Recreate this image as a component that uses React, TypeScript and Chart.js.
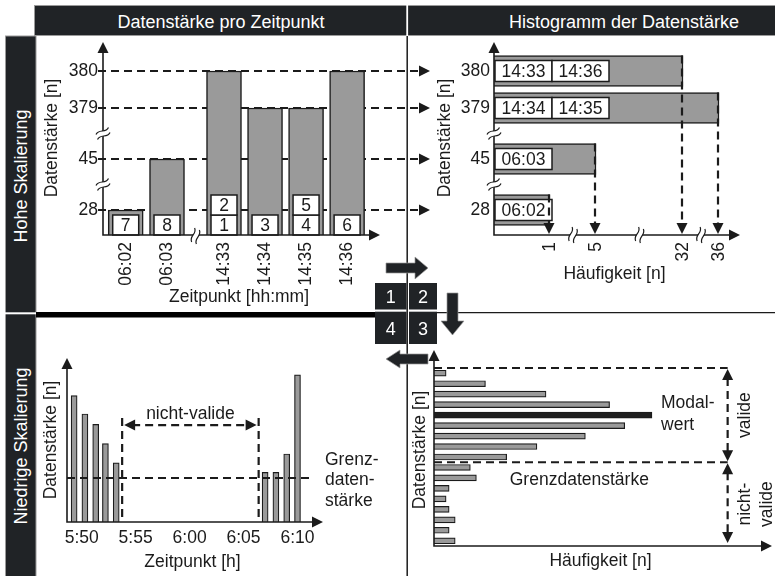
import React, { useEffect, useRef } from 'react';
import { Chart, registerables, LinearScale } from 'chart.js';

Chart.register(...registerables);

// ---------- broken (piecewise) linear scale ----------
class BrokenScale extends LinearScale {
  static id = 'broken';
  static defaults = LinearScale.defaults;
  _knots(): number[][] {
    return ((this.options as any).knots || []) as number[][];
  }
  _decimal(value: number) {
    const k = this._knots();
    const u0 = k[0][1];
    const uN = k[k.length - 1][1];
    let u = u0;
    if (value <= k[0][0]) u = u0;
    else if (value >= k[k.length - 1][0]) u = uN;
    else {
      for (let i = 1; i < k.length; i++) {
        if (value <= k[i][0]) {
          const [v0, a] = k[i - 1];
          const [v1, b] = k[i];
          u = a + ((value - v0) / (v1 - v0)) * (b - a);
          break;
        }
      }
    }
    return (u - u0) / (uN - u0);
  }
  getPixelForValue(value: any) {
    if (value === null || value === undefined || isNaN(value)) return NaN;
    return this.getPixelForDecimal(this._decimal(+value));
  }
  getValueForPixel(pixel: number) {
    const k = this._knots();
    const u0 = k[0][1];
    const uN = k[k.length - 1][1];
    const u = u0 + this.getDecimalForPixel(pixel) * (uN - u0);
    for (let i = 1; i < k.length; i++) {
      if (u <= k[i][1]) {
        const [v0, a] = k[i - 1];
        const [v1, b] = k[i];
        return v0 + ((u - a) / (b - a)) * (v1 - v0);
      }
    }
    return k[k.length - 1][0];
  }
}
Chart.register(BrokenScale as any);

const FONT = '"Liberation Sans", Arial, Helvetica, sans-serif';
const FS = 17.5;
const INK = '#1b1b1b';
const BAR_GRAY = '#9a9a9a';
const MODAL_DARK = '#1f1f1f';
const FRAME_DARK = '#202326';

Chart.defaults.font.family = FONT;
Chart.defaults.font.size = FS;
Chart.defaults.color = INK;

// ---------- data: panel 1 (Datenstärke pro Zeitpunkt) ----------
const timeCategories = ['06:02', '06:03', '14:33', '14:34', '14:35', '14:36'];
const strengthPerTime = [28, 45, 380, 379, 379, 380];
const orderLabels = [['7'], ['8'], ['1', '2'], ['3'], ['4', '5'], ['6']];
const strengthTicks = [28, 45, 379, 380];

// ---------- data: panel 2 (Histogramm der Datenstärke) ----------
const histValues = [380, 379, 45, 28];
const histCounts = [32, 36, 5, 1];
const histTimes = [['14:33', '14:36'], ['14:34', '14:35'], ['06:03'], ['06:02']];
const countTicks = [1, 5, 32, 36];

// ---------- data: panel 4 (Niedrige Skalierung, Zeitverlauf) ----------
const lowTimes = [49.3, 50.3, 51.3, 52.2, 53.2, 67, 68, 69, 70]; // minutes after 5:00
const lowStrength = [79, 67.5, 61, 49, 37, 31, 31, 42.5, 92];
const lowTickValues = [50, 55, 60, 65, 70];
const lowTickLabels = ['5:50', '5:55', '6:00', '6:05', '6:10'];
const thresholdStrength = 27.5;
const thresholdLineEnd = 71.4;
const invalidStart = 53.75;
const invalidEnd = 66.4;
const invalidMarkerTop = 65;
const invalidArrowLevel = 60.6;

// ---------- data: panel 3 (Histogramm, niedrige Skalierung) ----------
const classLabels = ['K1', 'K2', 'K3', 'K4', 'K5', 'K6', 'K7', 'K8', 'K9', 'K10', 'K11', 'K12', 'K13', 'K14', 'K15', 'K16', 'K17'];
const classCounts = [4, 17, 37, 58, 72, 63, 50, 34, 24, 12, 14, 5, 4, 5, 7, 5, 7];
const modalIndex = 4;
const thresholdClass = 9; // first non-valid class index
const validMarkerCount = 97;
const modalLabelCount = 75;
const thresholdLabelCount = 48;

const Y_TITLE = 'Datenstärke [n]';

// broken-axis layouts (value -> relative axis units)
const STRENGTH_KNOTS = [[0, 0], [28, 25], [45, 76], [379, 127], [380, 164], [383, 190]];
const TIME_INDEX_KNOTS = [[-0.55, 0], [1, 64], [2, 121], [5.68, 272]];
const COUNT_KNOTS = [[0, 0], [1, 56], [5, 102], [32, 189], [36, 225], [38, 241]];

// ---------- drawing helpers ----------
function dashed(ctx: any, x1: number, y1: number, x2: number, y2: number, w = 2.2) {
  ctx.save();
  ctx.strokeStyle = INK;
  ctx.lineWidth = w;
  ctx.setLineDash([8, 5]);
  ctx.beginPath();
  ctx.moveTo(x1, y1);
  ctx.lineTo(x2, y2);
  ctx.stroke();
  ctx.restore();
}

function arrowHead(ctx: any, x: number, y: number, dir: string, len = 11, half = 5.5) {
  const d = ({ up: [0, -1], down: [0, 1], left: [-1, 0], right: [1, 0] } as any)[dir];
  const bx = x - d[0] * len;
  const by = y - d[1] * len;
  const px = -d[1];
  const py = d[0];
  ctx.save();
  ctx.fillStyle = INK;
  ctx.beginPath();
  ctx.moveTo(x, y);
  ctx.lineTo(bx + px * half, by + py * half);
  ctx.lineTo(bx - px * half, by - py * half);
  ctx.closePath();
  ctx.fill();
  ctx.restore();
}

function axes(ctx: any, x0: number, y0: number, yTip: number, xTip: number) {
  ctx.save();
  ctx.strokeStyle = INK;
  ctx.lineWidth = 1.6;
  ctx.setLineDash([]);
  ctx.beginPath();
  ctx.moveTo(x0, yTip + 9);
  ctx.lineTo(x0, y0);
  ctx.lineTo(xTip - 9, y0);
  ctx.stroke();
  ctx.restore();
  arrowHead(ctx, x0, yTip, 'up');
  arrowHead(ctx, xTip, y0, 'right');
}

function breakMark(ctx: any, x: number, y: number, angle: number) {
  ctx.save();
  ctx.translate(x, y);
  ctx.rotate(angle);
  ctx.fillStyle = '#fff';
  ctx.fillRect(-5, -2.5, 10, 5);
  ctx.strokeStyle = INK;
  ctx.lineWidth = 1.2;
  for (const d of [-2.6, 2.6]) {
    ctx.beginPath();
    ctx.moveTo(-7, d + 1.5);
    ctx.bezierCurveTo(-2.5, d - 3.5, 2.5, d + 3.5, 7, d - 1.5);
    ctx.stroke();
  }
  ctx.restore();
}

function labelBox(ctx: any, x: number, y: number, w: number, h: number, s: string) {
  ctx.save();
  ctx.fillStyle = '#fff';
  ctx.fillRect(x, y, w, h);
  ctx.strokeStyle = INK;
  ctx.lineWidth = 1.5;
  ctx.strokeRect(x, y, w, h);
  ctx.fillStyle = INK;
  ctx.font = `${FS}px ${FONT}`;
  ctx.textAlign = 'center';
  ctx.textBaseline = 'middle';
  ctx.fillText(s, x + w / 2, y + h / 2 + 1);
  ctx.restore();
}

function text(ctx: any, s: string, x: number, y: number, align = 'left', rot = 0) {
  ctx.save();
  ctx.translate(x, y);
  ctx.rotate(rot);
  ctx.fillStyle = INK;
  ctx.font = `${FS}px ${FONT}`;
  ctx.textAlign = align;
  ctx.textBaseline = 'middle';
  ctx.fillText(s, 0, 0);
  ctx.restore();
}

// vertical axis title, centred at an offset left of the y axis
function yTitle(ctx: any, a: any, dx: number, dy: number) {
  text(ctx, Y_TITLE, a.left - dx, (a.top + a.bottom) / 2 + dy, 'center', -Math.PI / 2);
}

function baseOptions(padding: any) {
  return {
    animation: false,
    responsive: false,
    events: [],
    layout: { padding, autoPadding: false },
    plugins: { legend: { display: false }, tooltip: { enabled: false } },
  };
}

const NO_GRID = { display: false, drawTicks: false };

// fix an axis' thickness and stop it from pushing the chart area
function fixWidth(w: number) {
  return (s: any) => { s.width = w; s.paddingTop = 0; s.paddingBottom = 0; s.paddingLeft = 0; s.paddingRight = 0; };
}
function fixHeight(h: number) {
  return (s: any) => { s.height = h; s.paddingTop = 0; s.paddingBottom = 0; s.paddingLeft = 0; s.paddingRight = 0; };
}

// ---------- panel 1 ----------
const panel1Decor = {
  id: 'panel1Decor',
  beforeDatasetsDraw(chart: any) {
    const { ctx, chartArea: a, scales } = chart;
    strengthTicks.forEach((v) => {
      const py = scales.y.getPixelForValue(v);
      dashed(ctx, a.left - 5, py, a.right + 46, py);
      arrowHead(ctx, a.right + 55, py, 'right');
    });
  },
  afterDatasetsDraw(chart: any) {
    const { ctx, chartArea: a, scales } = chart;
    const bars = chart.getDatasetMeta(0).data;
    bars.forEach((bar: any, i: number) => {
      orderLabels[i].forEach((lbl, k) => {
        labelBox(ctx, bar.x - 13, bar.base - 20 * (k + 1), 26, 20, lbl);
      });
    });
    axes(ctx, a.left, a.bottom, a.top - 3, a.right + 5);
    const yp = strengthTicks.map((v) => scales.y.getPixelForValue(v));
    breakMark(ctx, a.left, (yp[0] + yp[1]) / 2, -0.3);
    breakMark(ctx, a.left, (yp[1] + yp[2]) / 2, -0.3);
    const x1 = scales.x.getPixelForValue(1);
    const x2 = scales.x.getPixelForValue(2);
    breakMark(ctx, (x1 + x2) / 2, a.bottom + 1, -1.15);
    yTitle(ctx, a, 51, -2);
  },
};

function panel1Config(): any {
  return {
    type: 'bar',
    data: {
      datasets: [{
        data: timeCategories.map((_, i) => ({ x: i, y: strengthPerTime[i] })),
        backgroundColor: BAR_GRAY,
        borderColor: INK,
        borderWidth: 1.5,
        barThickness: 35,
      }],
    },
    options: {
      ...baseOptions({ left: 0, top: 9, right: 65, bottom: 0 }),
      scales: {
        x: {
          type: 'broken', knots: TIME_INDEX_KNOTS, min: -0.55, max: 5.68, bounds: 'data', offset: false,
          grid: NO_GRID, border: { display: false },
          afterBuildTicks: (s: any) => { s.ticks = timeCategories.map((_, i) => ({ value: i })); },
          ticks: { autoSkip: false, minRotation: 90, maxRotation: 90, padding: 7, callback: (v: any) => timeCategories[v] },
          title: { display: true, text: 'Zeitpunkt [hh:mm]', padding: { top: 0, bottom: 4 } },
          afterFit: fixHeight(77),
        },
        y: {
          type: 'broken', knots: STRENGTH_KNOTS, min: 0, max: 383, bounds: 'data',
          grid: NO_GRID, border: { display: false },
          afterBuildTicks: (s: any) => { s.ticks = strengthTicks.map((v) => ({ value: v })); },
          ticks: { autoSkip: false, padding: 5, callback: (v: any) => String(v) },
          title: { display: false },
          afterFit: fixWidth(67),
        },
      },
    },
    plugins: [panel1Decor],
  };
}

// ---------- panel 2 ----------
const panel2Decor = {
  id: 'panel2Decor',
  afterDatasetsDraw(chart: any) {
    const { ctx, chartArea: a, scales } = chart;
    const bars = chart.getDatasetMeta(0).data;
    bars.forEach((bar: any, i: number) => {
      histTimes[i].forEach((lbl, k) => {
        labelBox(ctx, bar.base + 1 + 57 * k, bar.y - 10.5, 57, 21, lbl);
      });
    });
    bars.forEach((bar: any) => {
      const x = bar.x - 1;
      dashed(ctx, x, bar.y - bar.height / 2, x, a.bottom - 10);
      arrowHead(ctx, x, a.bottom - 1, 'down');
    });
    axes(ctx, a.left, a.bottom, a.top - 3, a.right + 5);
    const yp = [28, 45, 379].map((v) => scales.y.getPixelForValue(v));
    breakMark(ctx, a.left, (yp[0] + yp[1]) / 2, -0.3);
    breakMark(ctx, a.left, (yp[1] + yp[2]) / 2, -0.3);
    const xp = countTicks.map((v) => scales.x.getPixelForValue(v));
    for (let i = 0; i < xp.length - 1; i++) breakMark(ctx, (xp[i] + xp[i + 1]) / 2, a.bottom, -1.15);
    yTitle(ctx, a, 48.5, -2);
  },
};

function panel2Config(): any {
  return {
    type: 'bar',
    data: {
      datasets: [{
        data: histValues.map((v, i) => ({ x: histCounts[i], y: v })),
        backgroundColor: BAR_GRAY,
        borderColor: INK,
        borderWidth: 1.5,
        barThickness: 31,
      }],
    },
    options: {
      ...baseOptions({ left: 0, top: 9, right: 40, bottom: 0 }),
      indexAxis: 'y',
      scales: {
        y: {
          type: 'broken', knots: STRENGTH_KNOTS, min: 0, max: 383, bounds: 'data', offset: false,
          grid: NO_GRID, border: { display: false },
          afterBuildTicks: (s: any) => { s.ticks = strengthTicks.map((v) => ({ value: v })); },
          ticks: { autoSkip: false, padding: 4, callback: (v: any) => String(v) },
          title: { display: false },
          afterFit: fixWidth(87),
        },
        x: {
          type: 'broken', knots: COUNT_KNOTS, min: 0, max: 38, bounds: 'data',
          grid: NO_GRID, border: { display: false },
          afterBuildTicks: (s: any) => { s.ticks = countTicks.map((v) => ({ value: v })); },
          ticks: { autoSkip: false, minRotation: 90, maxRotation: 90, padding: 7, callback: (v: any) => String(v) },
          title: { display: true, text: 'Häufigkeit [n]', padding: { top: 0, bottom: 27 } },
          afterFit: fixHeight(77),
        },
      },
    },
    plugins: [panel2Decor],
  };
}

// ---------- panel 4 ----------
const panel4Decor = {
  id: 'panel4Decor',
  afterDatasetsDraw(chart: any) {
    const { ctx, chartArea: a, scales } = chart;
    const xs = scales.x;
    const ys = scales.y;
    const gy = ys.getPixelForValue(thresholdStrength);
    dashed(ctx, a.left, gy, xs.getPixelForValue(thresholdLineEnd), gy);
    const xa = xs.getPixelForValue(invalidStart);
    const xb = xs.getPixelForValue(invalidEnd);
    const yt = ys.getPixelForValue(invalidMarkerTop);
    dashed(ctx, xa, yt, xa, a.bottom);
    dashed(ctx, xb, yt, xb, a.bottom);
    const ay = ys.getPixelForValue(invalidArrowLevel);
    dashed(ctx, xa + 10, ay, xb - 10, ay);
    arrowHead(ctx, xa + 2, ay, 'left');
    arrowHead(ctx, xb - 2, ay, 'right');
    text(ctx, 'nicht-valide', (xa + xb) / 2, ay - 11, 'center');
    text(ctx, 'Grenz-', a.right + 7, gy - 18);
    text(ctx, 'daten-', a.right + 7, gy + 2.5);
    text(ctx, 'stärke', a.right + 7, gy + 23);
    axes(ctx, a.left, a.bottom, a.top - 4, a.right + 5);
    yTitle(ctx, a, 15.5, -2);
  },
};

function panel4Config(): any {
  return {
    type: 'bar',
    data: {
      datasets: [{
        data: lowTimes.map((t, i) => ({ x: t, y: lowStrength[i] })),
        backgroundColor: BAR_GRAY,
        borderColor: INK,
        borderWidth: 1.2,
        barThickness: 6,
      }],
    },
    options: {
      ...baseOptions({ left: 0, top: 44, right: 88, bottom: 0 }),
      scales: {
        x: {
          type: 'linear', min: 48.64, max: 71.9, bounds: 'data', offset: false,
          grid: NO_GRID, border: { display: false },
          afterBuildTicks: (s: any) => { s.ticks = lowTickValues.map((v) => ({ value: v })); },
          ticks: { autoSkip: false, maxRotation: 0, padding: 6, callback: (v: any) => lowTickLabels[lowTickValues.indexOf(v)] },
          title: { display: true, text: 'Zeitpunkt [h]', padding: { top: 0, bottom: 3 } },
          afterFit: fixHeight(54),
        },
        y: {
          type: 'linear', min: 0, max: 100,
          grid: NO_GRID, border: { display: false },
          ticks: { display: false },
          title: { display: false },
          afterFit: fixWidth(31),
        },
      },
    },
    plugins: [panel4Decor],
  };
}

// ---------- panel 3 ----------
const panel3Decor = {
  id: 'panel3Decor',
  afterDatasetsDraw(chart: any) {
    const { ctx, chartArea: a, scales } = chart;
    const xs = scales.x;
    const ys = scales.y;
    const topY = a.top;
    const gy = (ys.getPixelForValue(thresholdClass - 1) + ys.getPixelForValue(thresholdClass)) / 2;
    const xv = xs.getPixelForValue(validMarkerCount);
    dashed(ctx, a.left, topY, xv, topY);
    dashed(ctx, a.left, gy, xv, gy);
    dashed(ctx, xv, topY + 10, xv, gy - 10);
    arrowHead(ctx, xv, topY + 1, 'up');
    arrowHead(ctx, xv, gy - 1, 'down');
    dashed(ctx, xv, gy + 10, xv, a.bottom - 12);
    arrowHead(ctx, xv, gy + 1, 'up');
    arrowHead(ctx, xv, a.bottom - 3, 'down');
    const lx = xs.getPixelForValue(modalLabelCount);
    text(ctx, 'Modal-', lx, ys.getPixelForValue(3) - 1);
    text(ctx, 'wert', lx, ys.getPixelForValue(5));
    text(ctx, 'Grenzdatenstärke', xs.getPixelForValue(thresholdLabelCount), gy + 18, 'center');
    text(ctx, 'valide', xv + 18, (topY + gy) / 2, 'center', -Math.PI / 2);
    text(ctx, 'nicht-', xv + 18, (gy + a.bottom) / 2, 'center', -Math.PI / 2);
    text(ctx, 'valide', xv + 40, (gy + a.bottom) / 2, 'center', -Math.PI / 2);
    axes(ctx, a.left, a.bottom, a.top - 18, a.right + 5);
    yTitle(ctx, a, 13.5, -7);
  },
};

function panel3Config(): any {
  return {
    type: 'bar',
    data: {
      labels: classLabels,
      datasets: [{
        data: classCounts,
        backgroundColor: classCounts.map((_, i) => (i === modalIndex ? MODAL_DARK : BAR_GRAY)),
        borderColor: INK,
        borderWidth: 1.2,
        barThickness: 6,
      }],
    },
    options: {
      ...baseOptions({ left: 0, top: 50, right: 8, bottom: 0 }),
      indexAxis: 'y',
      scales: {
        y: {
          type: 'category',
          grid: NO_GRID, border: { display: false },
          ticks: { display: false },
          title: { display: false },
          afterFit: fixWidth(26),
        },
        x: {
          type: 'linear', min: 0, max: 110,
          grid: NO_GRID, border: { display: false },
          ticks: { display: false },
          title: { display: true, text: 'Häufigkeit [n]', padding: { top: 0, bottom: 4 } },
          afterFit: fixHeight(30),
        },
      },
    },
    plugins: [panel3Decor],
  };
}

// ---------- components ----------
function ChartCanvas({ left, top, width, height, build }: any) {
  const ref = useRef<HTMLCanvasElement>(null);
  useEffect(() => {
    const chart = new Chart(ref.current as HTMLCanvasElement, build());
    return () => chart.destroy();
  }, []);
  return (
    <canvas
      ref={ref}
      width={width}
      height={height}
      style={{ position: 'absolute', left, top, width, height }}
    />
  );
}

const svgText = { fontFamily: FONT, fontSize: 18 } as any;

function Frame() {
  return (
    <svg width={775} height={576} style={{ position: 'absolute', left: 0, top: 0 }}>
      <rect x={34.5} y={5.5} width={741} height={30} fill={FRAME_DARK} stroke="#9a9a9a" strokeWidth={1} />
      <rect x={5.5} y={36} width={30.5} height={541} fill={FRAME_DARK} stroke="#9a9a9a" strokeWidth={1} />
      <rect x={406.3} y={5} width={1.8} height={31} fill="#fff" />
      <rect x={5} y={312.3} width={31} height={2} fill="#fff" />
      <line x1={407.2} y1={36} x2={407.2} y2={576} stroke={INK} strokeWidth={1.5} />
      <line x1={437} y1={312.7} x2={775} y2={312.7} stroke={INK} strokeWidth={1.3} />
      <rect x={36} y={312} width={339} height={5.5} fill="#000" />
      <text x={221} y={21.5} fill="#fff" textAnchor="middle" dominantBaseline="central" style={svgText}>Datenstärke pro Zeitpunkt</text>
      <text x={624} y={21.5} fill="#fff" textAnchor="middle" dominantBaseline="central" style={svgText}>Histogramm der Datenstärke</text>
      <text transform="translate(21,176) rotate(-90)" fill="#fff" textAnchor="middle" dominantBaseline="central" style={svgText}>Hohe Skalierung</text>
      <text transform="translate(21,446) rotate(-90)" fill="#fff" textAnchor="middle" dominantBaseline="central" style={svgText}>Niedrige Skalierung</text>
    </svg>
  );
}

function Overlay() {
  const sq = [
    { x: 375, y: 283, w: 31.5, h: 26.5, t: '1' },
    { x: 409, y: 283, w: 28, h: 26.5, t: '2' },
    { x: 375, y: 311.7, w: 31.5, h: 32.3, t: '4' },
    { x: 409, y: 311.7, w: 28, h: 32.3, t: '3' },
  ];
  return (
    <svg width={775} height={576} style={{ position: 'absolute', left: 0, top: 0, pointerEvents: 'none' }}>
      {sq.map((s) => (
        <g key={s.t}>
          <rect x={s.x} y={s.y} width={s.w} height={s.h} fill={FRAME_DARK} />
          <text x={s.x + s.w / 2} y={s.y + s.h / 2 + 1} fill="#fff" textAnchor="middle" dominantBaseline="central" style={svgText}>{s.t}</text>
        </g>
      ))}
      <polygon points="386,263 415,263 415,257 428,268 415,279 415,273 386,273" fill={FRAME_DARK} stroke="#9a9a9a" strokeWidth={0.7} />
      <polygon points="447,293 458,293 458,321 464,321 452.5,335 441,321 447,321" fill={FRAME_DARK} stroke="#9a9a9a" strokeWidth={0.7} />
      <polygon points="428,354 400,354 400,350 386,359 400,368 400,364 428,364" fill={FRAME_DARK} stroke="#9a9a9a" strokeWidth={0.7} />
    </svg>
  );
}

export default function App() {
  return (
    <div style={{ position: 'absolute', left: 0, top: 0, width: 775, height: 576, background: '#fff', overflow: 'hidden' }}>
      <Frame />
      <ChartCanvas left={36} top={36} width={404} height={276} build={panel1Config} />
      <ChartCanvas left={407} top={36} width={368} height={276} build={panel2Config} />
      <ChartCanvas left={36} top={318} width={370} height={258} build={panel4Config} />
      <ChartCanvas left={408} top={318} width={367} height={258} build={panel3Config} />
      <Overlay />
    </div>
  );
}
